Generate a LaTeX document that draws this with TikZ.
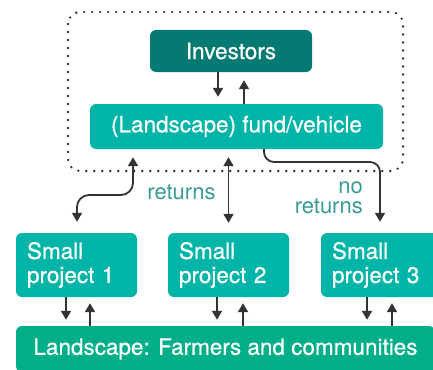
\documentclass[tikz,border=0pt]{standalone}
\usepackage{fontspec}
\setmainfont{TeX Gyre Heros}
\newfontfamily\boxfont{TeX Gyre Heros}[FakeBold=0.5]
\usetikzlibrary{arrows.meta,calc}
\definecolor{invcol}{HTML}{047A72}
\definecolor{fundcol}{HTML}{00B5A8}
\definecolor{landcol}{HTML}{00AF88}
\definecolor{txtcol}{HTML}{3A9A96}
\definecolor{arrcol}{HTML}{333333}
\tikzset{
  box/.style={rectangle, rounded corners=6pt, text=white, inner sep=0pt,
    font=\boxfont\fontsize{22.5}{24}\selectfont},
  pbox/.style={box, fill=fundcol, minimum width=121pt, minimum height=64pt,
    text width=99pt, align=left},
  arr/.style={draw=arrcol, line width=1.8pt, -{Triangle[width=10pt,length=9pt]}},
  darr/.style={draw=arrcol, line width=1.8pt, {Triangle[width=10pt,length=9pt]}-{Triangle[width=10pt,length=9pt]}},
  lbl/.style={text=txtcol, inner sep=0pt, font=\fontsize{22}{20}\selectfont},
}
\begin{document}
\begin{tikzpicture}[x=1pt,y=-1pt]
\useasboundingbox (0,0) rectangle (433,369);
\clip (0,0) rectangle (433,369);
\fill[white] (0,0) rectangle (433,369);
% dotted frame
\draw[arrcol, line width=2.6pt, line cap=round, dash pattern=on 0pt off 8pt, rounded corners=12pt]
  (68,12) rectangle (403,171);
% nodes
\node[box, fill=invcol, minimum width=162pt, minimum height=42pt] (inv) at (231,51) {Investors};
\node[box, fill=fundcol, minimum width=293pt, minimum height=45pt] (fund) at (236.5,126.5) {(Landscape) fund/vehicle};
\node[pbox] (p1) at (76.5,265) {Small\\project 1};
\node[pbox] (p2) at (228.5,265) {Small\\project 2};
\node[pbox] (p3) at (381.5,265) {Small\\project 3};
\node[box, fill=landcol, minimum width=419pt, minimum height=46pt] (land) at (225.5,349) {Landscape: Farmers and communities};
% labels
\node[lbl] (ret) at (181.5,192) {returns};
\node[lbl, align=right, anchor=east] (noret) at (363,198) {no\\returns};
% investors <-> fund
\coordinate (a1) at ($(inv.south)+(-13,0)$);
\coordinate (a2) at ($(inv.south)+(13,0)$);
\draw[arr, shorten >=7pt] (a1) -- (a1 |- fund.north);
\draw[arr, shorten >=8pt] (a2 |- fund.north) -- (a2);
% fund <-> projects
\coordinate (c1) at ($(p1.north)+(0.5,0)$);
\coordinate (f1) at (133,0);
\draw[darr, rounded corners=12pt, shorten <=8pt, shorten >=11pt]
  (f1 |- fund.south) -- (133,195) -- (77,195) -- (c1);
\draw[darr, shorten <=8pt, shorten >=10pt] (p2.north |- fund.south) -- (p2.north);
\coordinate (f3) at (264,0);
\coordinate (c3) at (380,0);
\draw[arr, rounded corners=10pt, shorten >=11pt]
  (f3 |- fund.south) -- (264,162) -- (380,162) -- (c3 |- p3.north);
% projects <-> landscape
\foreach \p/\d/\u in {p1/-10.5/13.5, p2/-11.5/14.5, p3/-14.5/10.5}{
  \coordinate (d) at ($(\p.south)+(\d,0)$);
  \coordinate (u) at ($(\p.south)+(\u,0)$);
  \draw[arr, shorten >=6pt] (d) -- (d |- land.north);
  \draw[arr, shorten >=6pt] (u |- land.north) -- (u);
}
\end{tikzpicture}
\end{document}
